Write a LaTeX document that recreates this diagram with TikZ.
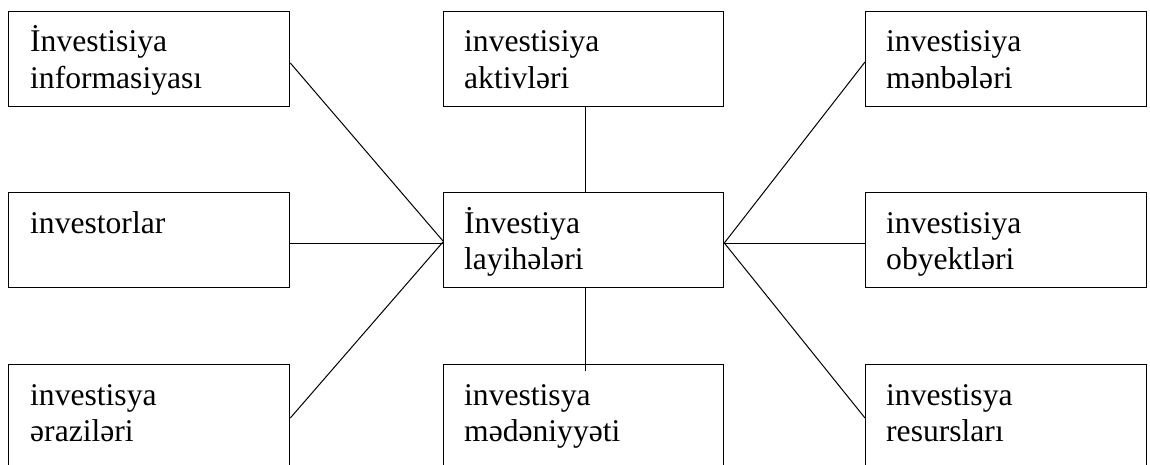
\documentclass[tikz,border=0pt]{standalone}
\usepackage{fontspec}
\setmainfont{Liberation Serif}
\usetikzlibrary{calc}
\begin{document}
\begin{tikzpicture}[x=1pt,y=-1pt,
  box/.style={draw, line width=1.3pt, minimum width=281pt, minimum height=95pt, anchor=north west, inner sep=0pt},
  lastrow/.style={minimum height=120pt},
  txt/.style={anchor=base west, inner sep=0pt, font=\fontsize{31.6pt}{36.6pt}\selectfont},
  link/.style={line width=1pt}]
\useasboundingbox (0,0) rectangle (1150,465);
\clip (0,0) rectangle (1150,465);
% boxes
\node[box] (tl) at (8,11) {};
\node[box, minimum width=280pt] (tm) at (443,11) {};
\node[box] (tr) at (865,11) {};
\node[box] (ml) at (8,192) {};
\node[box, minimum width=280pt] (c) at (443,192) {};
\node[box] (mr) at (865,192) {};
\node[box, lastrow] (bl) at (8,364) {};
\node[box, lastrow, minimum width=280pt] (bm) at (443,364) {};
\node[box, lastrow] (br) at (865,364) {};
% texts
\node[txt] (tlt) at ($(tl.north west)+(22,41)$) {\parbox[t]{250pt}{İnvestisiya\\informasiyası}};
\node[txt] (tmt) at ($(tm.north west)+(21,41)$) {\parbox[t]{250pt}{investisiya\\aktivləri}};
\node[txt] (trt) at ($(tr.north west)+(21,41)$) {\parbox[t]{250pt}{investisiya\\mənbələri}};
\node[txt] (mlt) at ($(ml.north west)+(22,41)$) {\parbox[t]{250pt}{investorlar}};
\node[txt] (ct) at ($(c.north west)+(21,41)$) {\parbox[t]{250pt}{İnvestiya\\layihələri}};
\node[txt] (mrt) at ($(mr.north west)+(21,41)$) {\parbox[t]{250pt}{investisiya\\obyektləri}};
\node[txt] (blt) at ($(bl.north west)+(22,41)$) {\parbox[t]{250pt}{investisya\\əraziləri}};
\node[txt] (bmt) at ($(bm.north west)+(21,41)$) {\parbox[t]{250pt}{investisya\\mədəniyyəti}};
\node[txt] (brt) at ($(br.north west)+(21,41)$) {\parbox[t]{250pt}{investisya\\resursları}};
% connectors
\draw[link] ($(tl.north east)+(0,52)$) -- ($(c.north west)+(0,49)$);
\draw[link] ($(ml.north east)+(0,51)$) -- ($(c.north west)+(0,51)$);
\draw[link] ($(bl.north east)+(0,54)$) -- ($(c.north west)+(0,50)$);
\draw[link] ($(tm.south)+(2,0)$) -- ($(c.north)+(2,0)$);
\draw[link] ($(c.south)+(2,0)$) -- ($(bm.north)+(2,7)$);
\draw[link] ($(c.north east)+(0,51)$) -- ($(tr.north west)+(0,51)$);
\draw[link] ($(c.north east)+(0,51)$) -- ($(mr.north west)+(0,51)$);
\draw[link] ($(c.north east)+(0,51)$) -- ($(br.north west)+(0,54)$);
\end{tikzpicture}
\end{document}
